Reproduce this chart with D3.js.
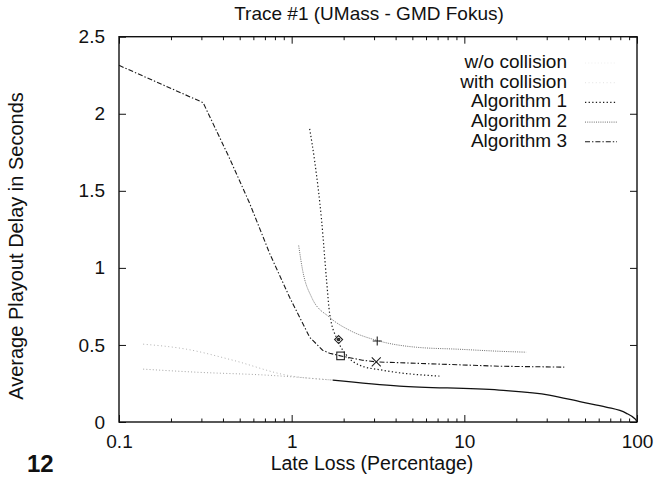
<!DOCTYPE html>
<html>
<head>
<meta charset="utf-8">
<script src="https://cdn.jsdelivr.net/npm/d3@7"></script>
<style>
  html, body { margin: 0; padding: 0; background: #fff; }
  svg { display: block; }
  text { font-family: "Liberation Sans", Arial, Helvetica, sans-serif; fill: #111; }
</style>
</head>
<body>
<svg id="chart" width="657" height="483"></svg>
<script>
// ---------------- data ----------------
const titleText = "Trace #1 (UMass - GMD Fokus)";
const xLabelText = "Late Loss (Percentage)";
const yLabelText = "Average Playout Delay in Seconds";
const pageNumber = "12";

const xTickValues = [0.1, 1, 10, 100];
const xTickLabels = ["0.1", "1", "10", "100"];
const yTickValues = [0, 0.5, 1, 1.5, 2, 2.5];
const yTickLabels = ["0", "0.5", "1", "1.5", "2", "2.5"];

const legendLabels = ["w/o collision", "with collision", "Algorithm 1", "Algorithm 2", "Algorithm 3"];

// w/o collision
const woX = [0.138, 0.282, 0.717, 1.73, 4.21, 15.9, 31.0, 48.1, 66.2, 86.4, 96.1, 99.0, 100];
const woY = [0.343, 0.323, 0.304, 0.272, 0.233, 0.207, 0.175, 0.129, 0.097, 0.058, 0.026, 0.01, 0];
const mergeX = 1.73;
// with collision
const withX = [0.138, 0.247, 0.456, 0.934, 1.73];
const withY = [0.505, 0.472, 0.401, 0.304, 0.272];
// Algorithm 1
const alg1X = [1.271, 1.358, 1.491, 1.593, 1.659, 1.845, 2.08, 2.47, 3.36, 7.17];
const alg1Y = [1.902, 1.695, 1.307, 0.918, 0.705, 0.530, 0.433, 0.369, 0.336, 0.298];
// Algorithm 2
const alg2X = [1.098, 1.158, 1.305, 1.659, 2.165, 3.10, 5.28, 9.35, 15.9, 22.8];
const alg2Y = [1.145, 0.983, 0.809, 0.679, 0.595, 0.530, 0.485, 0.472, 0.459, 0.453];
// Algorithm 3
const alg3X = [0.1, 0.307, 0.438, 0.572, 0.746, 0.973, 1.271, 1.511, 1.66, 1.92, 2.57, 3.09, 15.9, 37.9];
const alg3Y = [2.314, 2.072, 1.708, 1.417, 1.093, 0.809, 0.550, 0.466, 0.446, 0.429, 0.401, 0.390, 0.362, 0.356];

// point markers
const markerX = [1.87, 1.92, 3.13, 3.09];
const markerY = [0.535, 0.429, 0.526, 0.390];
const markerShape = ["diamond", "square", "plus", "cross"];

// ---------------- layout ----------------
const svg = d3.select("#chart");
const L = 119, R = 637, T = 36.7, B = 422;
const FS = 19;

const x = d3.scaleLog().domain([0.1, 100]).range([L, R]);
const y = d3.scaleLinear().domain([0, 2.5]).range([B, T]);

const minorX = [];
[0.1, 1, 10].forEach(d => { for (let k = 2; k <= 9; k++) minorX.push(+(d * k).toPrecision(3)); });

const gx = svg.append("g").attr("transform", `translate(0,${B})`)
  .call(d3.axisBottom(x).tickValues(xTickValues).tickFormat((d, i) => xTickLabels[i])
    .tickSizeInner(-7).tickSizeOuter(0).tickPadding(13));
const gxm = svg.append("g").attr("transform", `translate(0,${B})`)
  .call(d3.axisBottom(x).tickValues(minorX).tickFormat("").tickSizeInner(-3.5).tickSizeOuter(0));
const gxt = svg.append("g").attr("transform", `translate(0,${T})`)
  .call(d3.axisTop(x).tickValues(xTickValues).tickFormat("").tickSizeInner(-7).tickSizeOuter(0));
const gxtm = svg.append("g").attr("transform", `translate(0,${T})`)
  .call(d3.axisTop(x).tickValues(minorX).tickFormat("").tickSizeInner(-3.5).tickSizeOuter(0));
const gy = svg.append("g").attr("transform", `translate(${L},0)`)
  .call(d3.axisLeft(y).tickValues(yTickValues).tickFormat((d, i) => yTickLabels[i])
    .tickSizeInner(-7).tickSizeOuter(0).tickPadding(14));
const gyr = svg.append("g").attr("transform", `translate(${R},0)`)
  .call(d3.axisRight(y).tickValues(yTickValues).tickFormat("").tickSizeInner(-7).tickSizeOuter(0));

[gx, gxm, gxt, gxtm, gy, gyr].forEach(g => {
  g.select(".domain").remove();
  g.selectAll(".tick line").attr("stroke", "#111").attr("stroke-width", 1);
  g.selectAll(".tick text").attr("font-size", FS).attr("font-family", null).attr("fill", "#111");
});

svg.append("rect").attr("x", L).attr("y", T).attr("width", R - L).attr("height", B - T)
  .attr("fill", "none").attr("stroke", "#111").attr("stroke-width", 1.4);

// ---------------- series ----------------
const zip = (xs, ys) => xs.map((v, i) => [v, ys[i]]);
const lineMono = d3.line().x(d => x(d[0])).y(d => y(d[1])).curve(d3.curveMonotoneX);
const lineLin = d3.line().x(d => x(d[0])).y(d => y(d[1])).curve(d3.curveLinear);

const woData = zip(woX, woY);
const styles = {
  wo:   { stroke: "#9a9a9a", width: 0.9, dash: "1,2.2" },
  with: { stroke: "#a8a8a8", width: 0.9, dash: "1,2.6" },
  a1:   { stroke: "#1a1a1a", width: 1.2, dash: "1.3,2.3" },
  a2:   { stroke: "#6e6e6e", width: 1.0, dash: "1,1.2" },
  a3:   { stroke: "#1a1a1a", width: 1.1, dash: "5,2,1.4,2" }
};
function drawPath(data, gen, st) {
  svg.append("path").datum(data).attr("d", gen)
    .attr("fill", "none").attr("stroke", st.stroke).attr("stroke-width", st.width)
    .attr("stroke-dasharray", st.dash);
}
drawPath(woData.filter(d => d[0] <= mergeX), lineMono, styles.wo);
drawPath(zip(withX, withY), lineMono, styles.with);
svg.append("path").datum(woData.filter(d => d[0] >= mergeX)).attr("d", lineMono)
  .attr("fill", "none").attr("stroke", "#111").attr("stroke-width", 1.3);
drawPath(zip(alg1X, alg1Y), lineMono, styles.a1);
drawPath(zip(alg2X, alg2Y), lineMono, styles.a2);
drawPath(zip(alg3X, alg3Y), lineLin, styles.a3);

const mk = svg.append("g").attr("fill", "none").attr("stroke", "#222").attr("stroke-width", 1.1);
markerX.forEach((mx, i) => {
  const px = x(mx), py = y(markerY[i]);
  const s = markerShape[i];
  if (s === "diamond") {
    mk.append("path").attr("d", `M${px},${py - 4}L${px + 4},${py}L${px},${py + 4}L${px - 4},${py}Z`);
    mk.append("circle").attr("cx", px).attr("cy", py).attr("r", 1.2).attr("fill", "#444");
  } else if (s === "square") {
    mk.append("rect").attr("x", px - 3.8).attr("y", py - 3.8).attr("width", 7.6).attr("height", 7.6);
  } else if (s === "plus") {
    mk.append("path").attr("d", `M${px - 4.5},${py}H${px + 4.5}M${px},${py - 4.5}V${py + 4.5}`);
  } else if (s === "cross") {
    mk.append("path").attr("d", `M${px - 4.5},${py - 4.5}L${px + 4.5},${py + 4.5}M${px - 4.5},${py + 4.5}L${px + 4.5},${py - 4.5}`);
  }
});

// ---------------- legend ----------------
const legendStyles = [styles.wo, styles.with, styles.a1, styles.a2, styles.a3];
const legendOpacity = [0.15, 0.35, 1, 1, 1];
const lgX = 567, lgY0 = 68, lgDy = 19.7, smpX0 = 585, smpX1 = 617;
legendLabels.forEach((lab, i) => {
  const by = lgY0 + i * lgDy;
  svg.append("text").attr("x", lgX).attr("y", by).attr("text-anchor", "end")
    .attr("font-size", FS).text(lab);
  const st = legendStyles[i];
  svg.append("line").attr("x1", smpX0).attr("x2", smpX1).attr("y1", by - 5).attr("y2", by - 5)
    .attr("stroke", st.stroke).attr("stroke-width", st.width).attr("stroke-dasharray", st.dash)
    .attr("opacity", legendOpacity[i]);
});

// ---------------- titles ----------------
svg.append("text").attr("x", 369).attr("y", 20).attr("text-anchor", "middle")
  .attr("font-size", FS).text(titleText);
svg.append("text").attr("x", 372).attr("y", 470).attr("text-anchor", "middle")
  .attr("font-size", 19.5).text(xLabelText);
svg.append("text").attr("transform", "translate(23,246) rotate(-90)").attr("text-anchor", "middle")
  .attr("font-size", 20).text(yLabelText);
svg.append("text").attr("x", 27).attr("y", 472).attr("font-size", 24).attr("font-weight", "bold")
  .text(pageNumber);
</script>
</body>
</html>
